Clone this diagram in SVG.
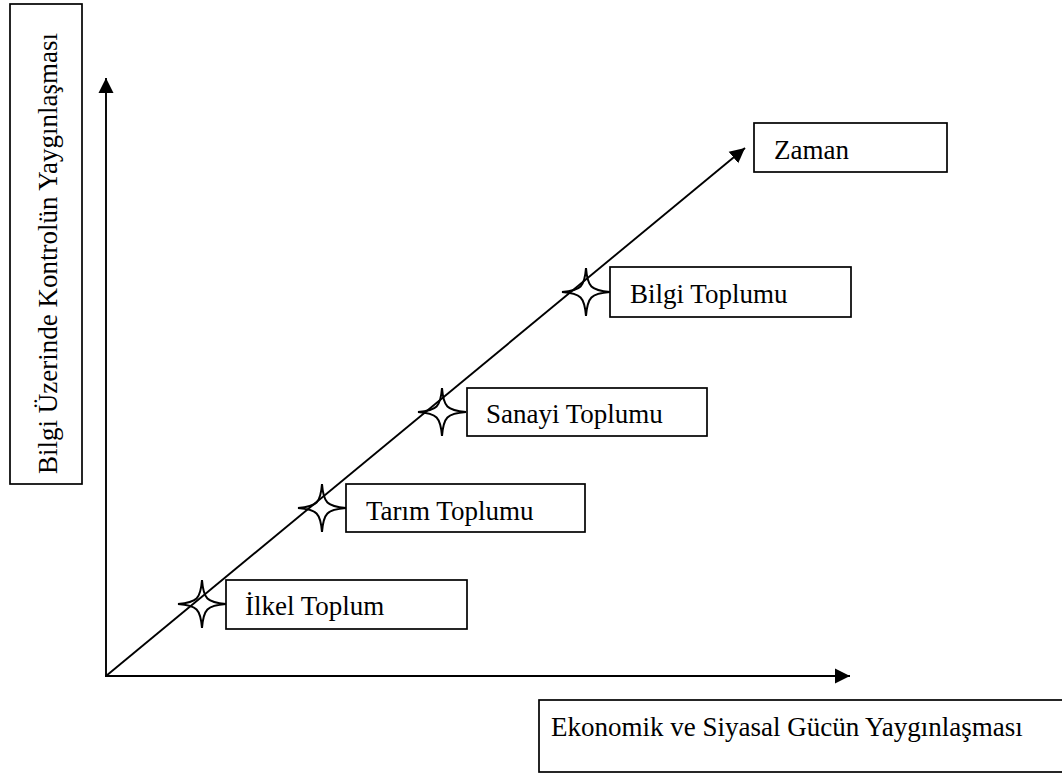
<svg xmlns="http://www.w3.org/2000/svg" width="1062" height="774" viewBox="0 0 1062 774">
<style>
.box{fill:#fff;stroke:#000;stroke-width:1.7}
.lbl{font-family:"Liberation Serif","Times New Roman",serif;font-size:27px;fill:#000}
.ln{stroke:#000;stroke-width:1.9;fill:none}
.star{fill:none;stroke:#000;stroke-width:2;stroke-linejoin:miter}
</style>
<defs>
<marker id="ah" markerWidth="16" markerHeight="16" refX="15" refY="8" orient="auto" markerUnits="userSpaceOnUse">
<path d="M0,0.5 L15,8 L0,15.5 Z" fill="#000"/>
</marker>
<path id="st" d="M0,-24 C1.5,-5 5,-1.5 24,0 C5,1.5 1.5,5 0,24 C-1.5,5 -5,1.5 -24,0 C-5,-1.5 -1.5,-5 0,-24 Z"/>
</defs>
<g id="connectors">
<line class="ln" x1="106" y1="677" x2="106" y2="78" marker-end="url(#ah)"/>
<line class="ln" x1="105" y1="676" x2="850" y2="676" marker-end="url(#ah)"/>
<line class="ln" x1="106" y1="676" x2="745" y2="148" marker-end="url(#ah)"/>
</g>
<g id="node-yaxis">
<rect class="box" x="10" y="4" width="72" height="480"/>
<text class="lbl" transform="translate(57,474) rotate(-90)">Bilgi Üzerinde Kontrolün Yaygınlaşması</text>
</g>
<g id="node-xaxis">
<rect class="box" x="539" y="700" width="540" height="72"/>
<text class="lbl" x="551" y="736">Ekonomik ve Siyasal Gücün Yaygınlaşması</text>
</g>
<g id="node-zaman">
<rect class="box" x="754" y="123" width="193" height="49"/>
<text class="lbl" x="774" y="159">Zaman</text>
</g>
<g id="node-ilkel">
<use href="#st" class="star" x="202" y="604"/>
<rect class="box" x="226" y="580" width="241" height="49"/>
<text class="lbl" x="245" y="615">İlkel Toplum</text>
</g>
<g id="node-tarim">
<use href="#st" class="star" x="322" y="508"/>
<rect class="box" x="346" y="484" width="239" height="48"/>
<text class="lbl" x="366" y="520">Tarım Toplumu</text>
</g>
<g id="node-sanayi">
<use href="#st" class="star" x="442" y="412"/>
<rect class="box" x="467" y="388" width="240" height="48"/>
<text class="lbl" x="486" y="423">Sanayi Toplumu</text>
</g>
<g id="node-bilgi">
<use href="#st" class="star" x="586" y="292"/>
<rect class="box" x="610" y="267" width="241" height="50"/>
<text class="lbl" x="630" y="303">Bilgi Toplumu</text>
</g>
</svg>
